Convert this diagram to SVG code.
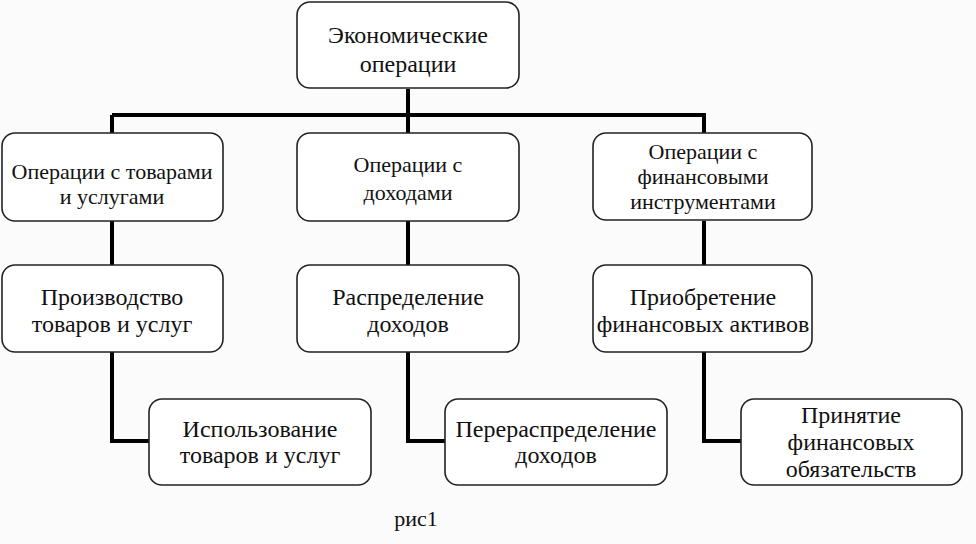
<svg xmlns="http://www.w3.org/2000/svg" width="976" height="544" viewBox="0 0 976 544">
<style>
.box{fill:#ffffff;stroke:#222;stroke-width:1.6}
.ln{fill:none;stroke:#000;stroke-width:4}
</style>
<rect width="976" height="544" fill="#fbfbfb"/>
<g id="connectors">
<path class="ln" d="M408 89V115M112 115H706M112 115V133M408 115V133M704 115V133"/>
<path class="ln" d="M112 221V265M408 221V265M704 221V265"/>
<path class="ln" d="M112 352V441H149M408 352V441H445M704 352V441H741"/>
</g>
<g font-family="Liberation Serif, serif" fill="#111" text-anchor="middle" font-size="24">
<g id="n0"><rect class="box" x="297" y="2" width="222" height="86" rx="13"/>
<text x="408" y="43">Экономические</text><text x="408" y="72">операции</text></g>
<g id="n1" font-size="22"><rect class="box" x="2" y="133" width="221" height="88" rx="13"/>
<text x="112" y="179">Операции с товарами</text><text x="112" y="204">и услугами</text></g>
<g id="n2" font-size="22"><rect class="box" x="297" y="133" width="222" height="88" rx="13"/>
<text x="408" y="172">Операции с</text><text x="408" y="200">доходами</text></g>
<g id="n3" font-size="22"><rect class="box" x="593" y="133" width="219" height="87" rx="13"/>
<text x="703" y="159">Операции с</text><text x="703" y="184">финансовыми</text><text x="703" y="209">инструментами</text></g>
<g id="n4"><rect class="box" x="2" y="265" width="221" height="87" rx="13"/>
<text x="112" y="305">Производство</text><text x="112" y="332">товаров и услуг</text></g>
<g id="n5"><rect class="box" x="297" y="265" width="222" height="87" rx="13"/>
<text x="408" y="305">Распределение</text><text x="408" y="332">доходов</text></g>
<g id="n6"><rect class="box" x="593" y="265" width="219" height="87" rx="13"/>
<text x="703" y="305">Приобретение</text><text x="703" y="332">финансовых активов</text></g>
<g id="n7"><rect class="box" x="149" y="399" width="222" height="86" rx="13"/>
<text x="260" y="437">Использование</text><text x="260" y="463">товаров и услуг</text></g>
<g id="n8"><rect class="box" x="445" y="399" width="222" height="86" rx="13"/>
<text x="556" y="437">Перераспределение</text><text x="556" y="463">доходов</text></g>
<g id="n9"><rect class="box" x="741" y="399" width="221" height="86" rx="13"/>
<text x="851" y="423">Принятие</text><text x="851" y="450">финансовых</text><text x="851" y="477">обязательств</text></g>
<text x="416" y="526" font-size="22">рис1</text>
</g>
</svg>
